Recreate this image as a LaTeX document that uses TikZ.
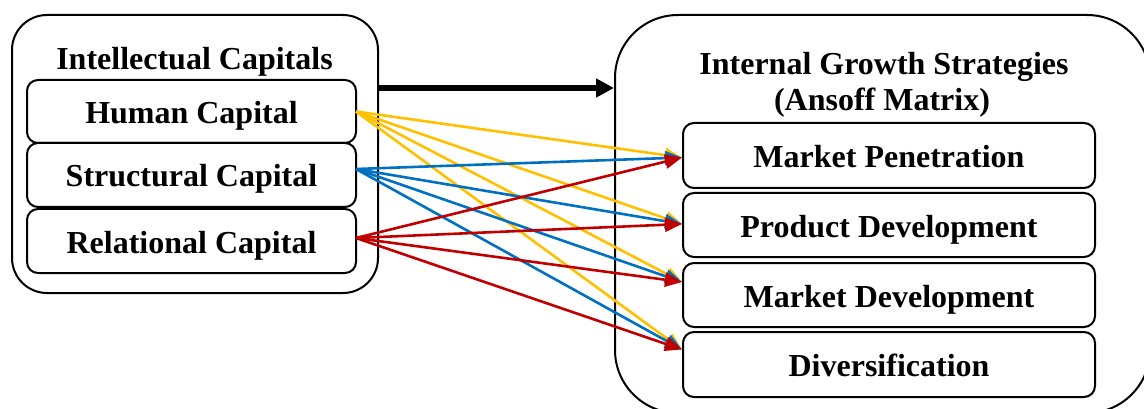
\documentclass[tikz,border=0pt]{standalone}
\usepackage{fontspec}
\setmainfont{Liberation Serif}
\usetikzlibrary{arrows.meta}
\definecolor{cyel}{HTML}{FFC000}
\definecolor{cblu}{HTML}{0070C0}
\definecolor{cred}{HTML}{C00000}
\begin{document}
\begin{tikzpicture}[x=1pt,y=-1pt,
  bigfont/.style={font=\bfseries\fontsize{32}{36}\selectfont},
  outerbox/.style={draw, line width=2pt, inner sep=0pt},
  itembox/.style={draw, line width=2pt, rounded corners=11pt, inner sep=0pt, bigfont, text height=28pt, text depth=4pt},
  titletext/.style={inner sep=0pt, bigfont, text height=28pt, text depth=4pt},
  link/.style={line width=2.6pt, -{Triangle[length=17pt,width=14pt]}},
  ylink/.style={link, draw=cyel},
  blink/.style={link, draw=cblu},
  rlink/.style={link, draw=cred},
  bigarrow/.style={line width=6pt, -{Triangle[length=18pt,width=18pt]}}
]
\useasboundingbox (0,0) rectangle (1144,409);
\clip (0,0) rectangle (1144,409);

% outer containers
\node[outerbox, rounded corners=35pt, minimum width=366pt, minimum height=278pt] (lbox) at (195,154) {};
\node[outerbox, rounded corners=63pt, minimum width=535pt, minimum height=398pt] (rbox) at (882.5,214) {};

% titles
\node[titletext] (ltitle) at (194.5,57.5) {Intellectual Capitals};
\node[titletext, anchor=base] (rtitle1) at (884,75) {Internal Growth Strategies};
\node[titletext, anchor=base] (rtitle2) at (882,111) {(Ansoff Matrix)};

% left items
\node[itembox, minimum width=329pt, minimum height=63pt] (hum) at (191.5,111.5) {Human Capital};
\node[itembox, minimum width=329pt, minimum height=64pt] (str) at (191.5,175) {Structural Capital};
\node[itembox, minimum width=329pt, minimum height=64pt] (rel) at (191.5,241) {Relational Capital};

% right items
\node[itembox, minimum width=412pt, minimum height=65pt] (mp) at (889,155.5) {Market Penetration};
\node[itembox, minimum width=412pt, minimum height=64pt] (pd) at (889,225) {Product Development};
\node[itembox, minimum width=412pt, minimum height=64pt] (md) at (889,295) {Market Development};
\node[itembox, minimum width=412pt, minimum height=65pt] (dv) at (889,364.5) {Diversification};

% connection points
\coordinate (sH) at ([xshift=-1pt]hum.east);
\coordinate (sS) at ([xshift=-1pt,yshift=6pt]str.east);
\coordinate (sR) at ([xshift=-1pt,yshift=3pt]rel.east);
\coordinate (tMP) at ([yshift=-2pt]mp.west);
\coordinate (tPD) at ([yshift=1pt]pd.west);
\coordinate (tMD) at ([yshift=13pt]md.west);
\coordinate (tDV) at ([yshift=15pt]dv.west);
\coordinate (bigy) at (0,88);

% big arrow
\draw[bigarrow] (lbox.east |- bigy) -- (rbox.west |- bigy);

% yellow: human capital
\draw[ylink] (sH) -- (tMP);
\draw[ylink] (sH) -- (tPD);
\draw[ylink] (sH) -- (tMD);
\draw[ylink] (sH) -- (tDV);
% blue: structural capital
\draw[blink] (sS) -- (tMP);
\draw[blink] (sS) -- (tPD);
\draw[blink] (sS) -- (tMD);
\draw[blink] (sS) -- (tDV);
% red: relational capital
\draw[rlink] (sR) -- (tMP);
\draw[rlink] (sR) -- (tPD);
\draw[rlink] (sR) -- (tMD);
\draw[rlink] (sR) -- (tDV);
\end{tikzpicture}
\end{document}
